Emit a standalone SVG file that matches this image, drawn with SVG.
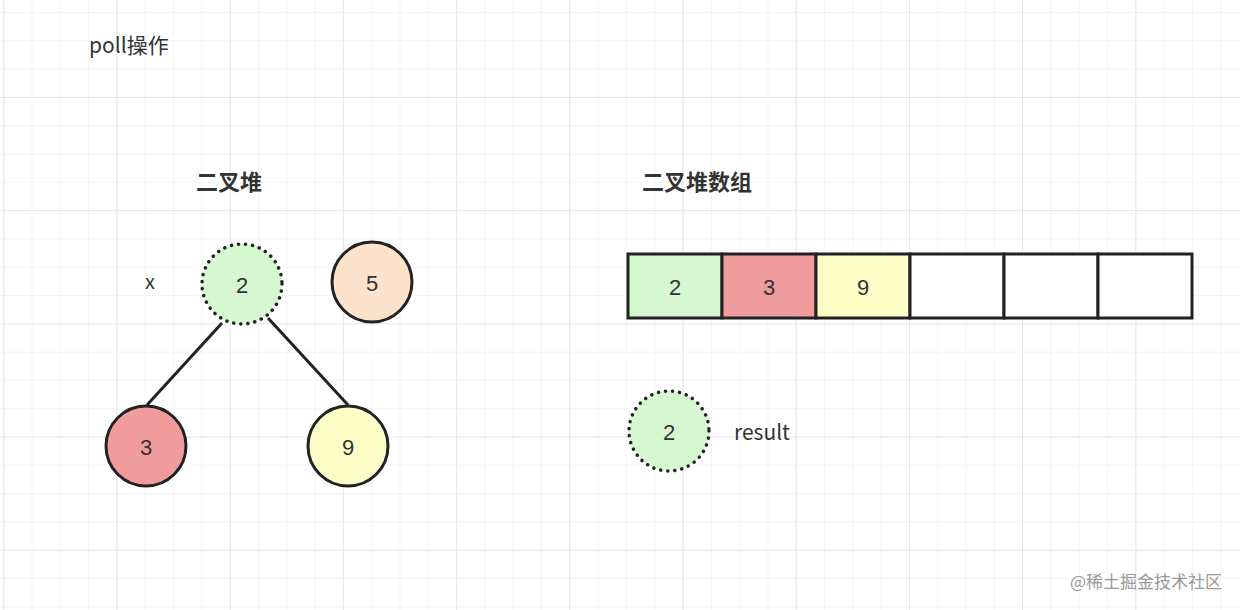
<svg xmlns="http://www.w3.org/2000/svg" width="1240" height="610" viewBox="0 0 1240 610">
<defs>
<pattern id="g" x="3.3" y="12" width="28.3" height="28.3" patternUnits="userSpaceOnUse"><path d="M0 0H28.3M0 0V28.3" stroke="#ececec" stroke-width="1" fill="none"/></pattern>
<pattern id="G" x="116.5" y="97" width="113.2" height="113.2" patternUnits="userSpaceOnUse"><path d="M0 0H113.2M0 0V113.2" stroke="#e2e2e2" stroke-width="1.5" fill="none"/></pattern>
</defs>
<style>
.t{font-family:"Noto Sans CJK SC","Liberation Sans",sans-serif;fill:#333}
.n{font-family:"Liberation Sans",sans-serif;font-size:22px;fill:#333;text-anchor:middle;dominant-baseline:central}
.c{stroke:#222;stroke-width:3}
.d{stroke:#222;stroke-width:3.5;stroke-dasharray:0.1 7;stroke-linecap:round}
.e{stroke:#222;stroke-width:3;fill:none}
</style>
<rect width="1240" height="610" fill="#fff"/>
<rect width="1240" height="610" fill="url(#g)"/>
<rect width="1240" height="610" fill="url(#G)"/>
<text class="t" x="89" y="53" font-size="21">poll操作</text>
<text class="t" x="196" y="190" font-size="22" font-weight="bold">二叉堆</text>
<text class="t" x="642" y="190" font-size="22" font-weight="bold">二叉堆数组</text>
<g id="edges"><line class="e" x1="222" y1="323" x2="147" y2="405"/><line class="e" x1="268" y1="318" x2="348" y2="405"/></g>
<text class="t" x="145" y="289" font-size="20">x</text>
<g id="n2"><circle class="d" cx="242" cy="284" r="40" fill="#d5f8d1"/><text class="n" x="242" y="285">2</text></g>
<g id="n5"><circle class="c" cx="372" cy="282" r="40" fill="#fde3cc"/><text class="n" x="372" y="283">5</text></g>
<g id="n3"><circle class="c" cx="146" cy="446" r="40" fill="#f09c9c"/><text class="n" x="146" y="447">3</text></g>
<g id="n9"><circle class="c" cx="348" cy="446" r="40" fill="#fdfdc8"/><text class="n" x="348" y="447">9</text></g>
<g id="arr">
<rect class="c" x="628" y="254" width="94" height="64" fill="#d5f8d1"/>
<rect class="c" x="722" y="254" width="94" height="64" fill="#f09c9c"/>
<rect class="c" x="816" y="254" width="94" height="64" fill="#fdfdc8"/>
<rect class="c" x="910" y="254" width="94" height="64" fill="#fff"/>
<rect class="c" x="1004" y="254" width="94" height="64" fill="#fff"/>
<rect class="c" x="1098" y="254" width="94" height="64" fill="#fff"/>
<text class="n" x="675" y="287">2</text><text class="n" x="769" y="287">3</text><text class="n" x="863" y="287">9</text>
</g>
<g id="res"><circle class="d" cx="669" cy="431" r="40" fill="#d5f8d1"/><text class="n" x="669" y="432">2</text></g>
<text class="t" x="734" y="440" font-size="21">result</text>
<text class="t" x="1222" y="588" font-size="17" text-anchor="end" style="fill:#999">@稀土掘金技术社区</text>
</svg>
